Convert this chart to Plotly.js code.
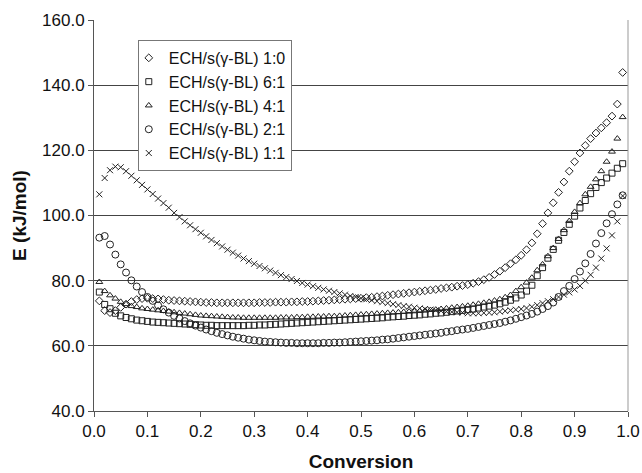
<!DOCTYPE html>
<html>
<head>
<meta charset="utf-8">
<script src="https://cdn.plot.ly/plotly-3.0.1.min.js"></script>
<style>html,body{margin:0;padding:0;background:#fff;}#chart{width:642px;height:473px;}</style>
</head>
<body>
<div id="chart"></div>
<script>
const conversion = [0.01,0.02,0.03,0.04,0.05,0.06,0.07,0.08,0.09,0.10,
0.11,0.12,0.13,0.14,0.15,0.16,0.17,0.18,0.19,0.20,
0.21,0.22,0.23,0.24,0.25,0.26,0.27,0.28,0.29,0.30,
0.31,0.32,0.33,0.34,0.35,0.36,0.37,0.38,0.39,0.40,
0.41,0.42,0.43,0.44,0.45,0.46,0.47,0.48,0.49,0.50,
0.51,0.52,0.53,0.54,0.55,0.56,0.57,0.58,0.59,0.60,
0.61,0.62,0.63,0.64,0.65,0.66,0.67,0.68,0.69,0.70,
0.71,0.72,0.73,0.74,0.75,0.76,0.77,0.78,0.79,0.80,
0.81,0.82,0.83,0.84,0.85,0.86,0.87,0.88,0.89,0.90,
0.91,0.92,0.93,0.94,0.95,0.96,0.97,0.98,0.99];

const seriesNames = ["ECH/s(γ-BL) 1:0","ECH/s(γ-BL) 6:1","ECH/s(γ-BL) 4:1","ECH/s(γ-BL) 2:1","ECH/s(γ-BL) 1:1"];

const e_1_0 = [73.8,70.8,70.2,70.8,71.8,72.8,73.6,74.2,74.5,74.6,
74.5,74.4,74.2,74.0,73.9,73.8,73.7,73.6,73.5,73.4,
73.3,73.3,73.2,73.2,73.2,73.2,73.2,73.2,73.2,73.2,
73.3,73.3,73.3,73.4,73.4,73.4,73.5,73.5,73.6,73.6,
73.7,73.8,73.9,74.0,74.1,74.2,74.3,74.4,74.5,74.6,
74.8,74.9,75.1,75.3,75.5,75.7,75.9,76.1,76.3,76.5,
76.7,76.9,77.1,77.3,77.6,77.8,78.0,78.3,78.5,78.8,
79.2,79.7,80.3,81.0,81.9,82.9,84.0,85.2,86.4,87.8,
89.5,91.6,94.4,97.5,100.8,103.9,107.1,110.3,113.6,116.5,
119.2,121.5,123.6,125.3,126.9,128.5,130.5,134.2,143.9];

const e_6_1 = [76.5,72.7,71.4,70.0,69.2,68.7,68.3,67.9,67.7,67.5,
67.3,67.2,67.1,67.0,66.9,66.8,66.7,66.6,66.5,66.4,
66.3,66.3,66.2,66.2,66.2,66.2,66.2,66.2,66.3,66.3,
66.4,66.4,66.5,66.6,66.7,66.8,66.9,67.0,67.1,67.2,
67.3,67.4,67.5,67.6,67.7,67.8,67.9,68.0,68.1,68.2,
68.3,68.4,68.5,68.6,68.8,68.9,69.0,69.1,69.3,69.4,
69.5,69.7,69.8,70.0,70.1,70.3,70.5,70.7,70.9,71.1,
71.3,71.6,71.9,72.2,72.5,72.9,73.4,74.0,74.7,75.6,
76.8,78.6,81.5,84.0,86.9,89.6,92.4,94.8,97.3,99.8,
102.3,104.6,106.7,108.6,110.1,111.5,113.0,114.5,115.9];

const e_4_1 = [79.6,76.8,75.5,74.5,73.5,72.8,72.2,71.9,71.5,71.3,
71.1,70.9,70.7,70.5,70.3,70.1,69.9,69.7,69.5,69.3,
69.2,69.1,69.0,68.9,68.8,68.7,68.7,68.6,68.6,68.6,
68.6,68.6,68.6,68.6,68.7,68.7,68.7,68.8,68.8,68.9,
68.9,69.0,69.0,69.1,69.1,69.2,69.3,69.4,69.5,69.6,
69.7,69.8,69.9,70.0,70.1,70.2,70.3,70.4,70.5,70.6,
70.7,70.8,71.0,71.1,71.3,71.5,71.7,71.9,72.1,72.3,
72.6,72.9,73.2,73.5,73.9,74.3,74.9,75.6,76.8,78.0,
79.4,80.9,83.2,85.0,87.5,90.0,92.8,95.5,98.3,101.1,
103.8,106.5,108.8,111.1,113.6,116.5,119.6,123.6,130.2];

const e_2_1 = [93.2,93.7,91.1,88.0,85.0,82.5,80.1,78.2,76.5,75.0,
73.8,72.4,71.2,70.2,69.2,68.4,67.6,66.9,66.2,65.6,
65.0,64.5,64.0,63.6,63.2,62.8,62.5,62.2,61.9,61.7,
61.5,61.3,61.2,61.1,61.0,60.9,60.9,60.8,60.8,60.8,
60.8,60.8,60.9,60.9,61.0,61.0,61.1,61.2,61.3,61.4,
61.5,61.6,61.7,61.9,62.0,62.2,62.4,62.6,62.8,63.0,
63.2,63.4,63.6,63.8,64.0,64.3,64.5,64.8,65.0,65.2,
65.5,65.8,66.1,66.4,66.7,67.0,67.4,67.8,68.3,68.8,
69.3,69.8,70.5,71.3,72.2,73.3,75.0,76.8,78.4,80.5,
82.8,85.3,88.2,91.4,94.6,97.6,100.4,103.4,106.2];

const e_1_1 = [106.5,111.5,113.9,115.0,114.8,113.6,112.2,110.8,109.4,108.0,
106.6,105.2,103.8,102.4,100.8,99.5,98.2,97.0,95.8,94.7,
93.6,92.5,91.5,90.5,89.5,88.6,87.7,86.8,86.0,85.2,
84.5,83.8,83.1,82.4,81.7,81.1,80.5,79.9,79.3,78.8,
78.3,77.8,77.3,76.9,76.5,76.1,75.7,75.3,75.0,74.6,
74.3,74.0,73.7,73.4,73.1,72.8,72.5,72.2,72.0,71.7,
71.5,71.3,71.1,70.9,70.7,70.5,70.4,70.3,70.2,70.0,
70.0,70.0,70.1,70.2,70.3,70.5,70.7,70.9,71.1,71.3,
71.6,72.0,72.5,73.1,73.7,74.3,75.0,75.7,76.4,77.3,
78.4,80.0,81.8,84.0,86.8,89.9,93.9,98.2,106.0];

const xTickVals = [0,0.1,0.2,0.3,0.4,0.5,0.6,0.7,0.8,0.9,1.0];
const xTickText = ["0.0","0.1","0.2","0.3","0.4","0.5","0.6","0.7","0.8","0.9","1.0"];
const yTickVals = [40,60,80,100,120,140,160];
const yTickText = ["40.0","60.0","80.0","100.0","120.0","140.0","160.0"];

const seriesData = [e_1_0, e_6_1, e_4_1, e_2_1, e_1_1];
const symbols = ["diamond-open","square-open","triangle-up-open","circle-open","x-thin-open"];
const sizes = [6,6,6,7,6];
const ink = "#222";

const traces = seriesData.map((ys, i) => ({
  x: conversion, y: ys, type: "scatter", mode: "markers",
  name: seriesNames[i],
  marker: {symbol: symbols[i], size: sizes[i], color: ink, line: {color: ink, width: 1}},
  hoverinfo: "skip"
}));

const font = "Liberation Sans, Arial, sans-serif";
const layout = {
  width: 642, height: 473,
  margin: {l: 94, r: 14, t: 20, b: 62},
  paper_bgcolor: "#fff", plot_bgcolor: "#fff",
  font: {family: font, size: 16, color: "#111"},
  showlegend: true,
  legend: {
    x: 0.082, y: 0.949, xanchor: "left", yanchor: "top",
    bgcolor: "#fff", bordercolor: "#777", borderwidth: 1,
    font: {family: font, size: 16, color: "#111"},
    indentation: -10
  },
  xaxis: {
    range: [0, 1], tickvals: xTickVals, ticktext: xTickText,
    showgrid: false, zeroline: false,
    showline: true, linecolor: "#555", linewidth: 1, mirror: false,
    ticks: "outside", ticklen: 5, tickcolor: "#555",
    tickfont: {family: font, size: 17, color: "#111"},
    title: {text: "<b>Conversion</b>", font: {family: font, size: 19, color: "#111"}, standoff: 14}
  },
  yaxis: {
    range: [40, 160], tickvals: yTickVals, ticktext: yTickText,
    showgrid: true, gridcolor: "#444", gridwidth: 1, zeroline: false,
    showline: true, linecolor: "#555", linewidth: 1,
    ticks: "outside", ticklen: 5, tickcolor: "#555",
    tickfont: {family: font, size: 17, color: "#111"},
    title: {text: "<b>E (kJ/mol)</b>", font: {family: font, size: 19, color: "#111"}, standoff: 10}
  },
  shapes: [
    {type: "line", xref: "paper", yref: "paper", x0: 1, x1: 1, y0: 0, y1: 1, line: {color: "#999", width: 1}}
  ]
};

Plotly.newPlot("chart", traces, layout, {staticPlot: true, displayModeBar: false});
</script>
</body>
</html>
